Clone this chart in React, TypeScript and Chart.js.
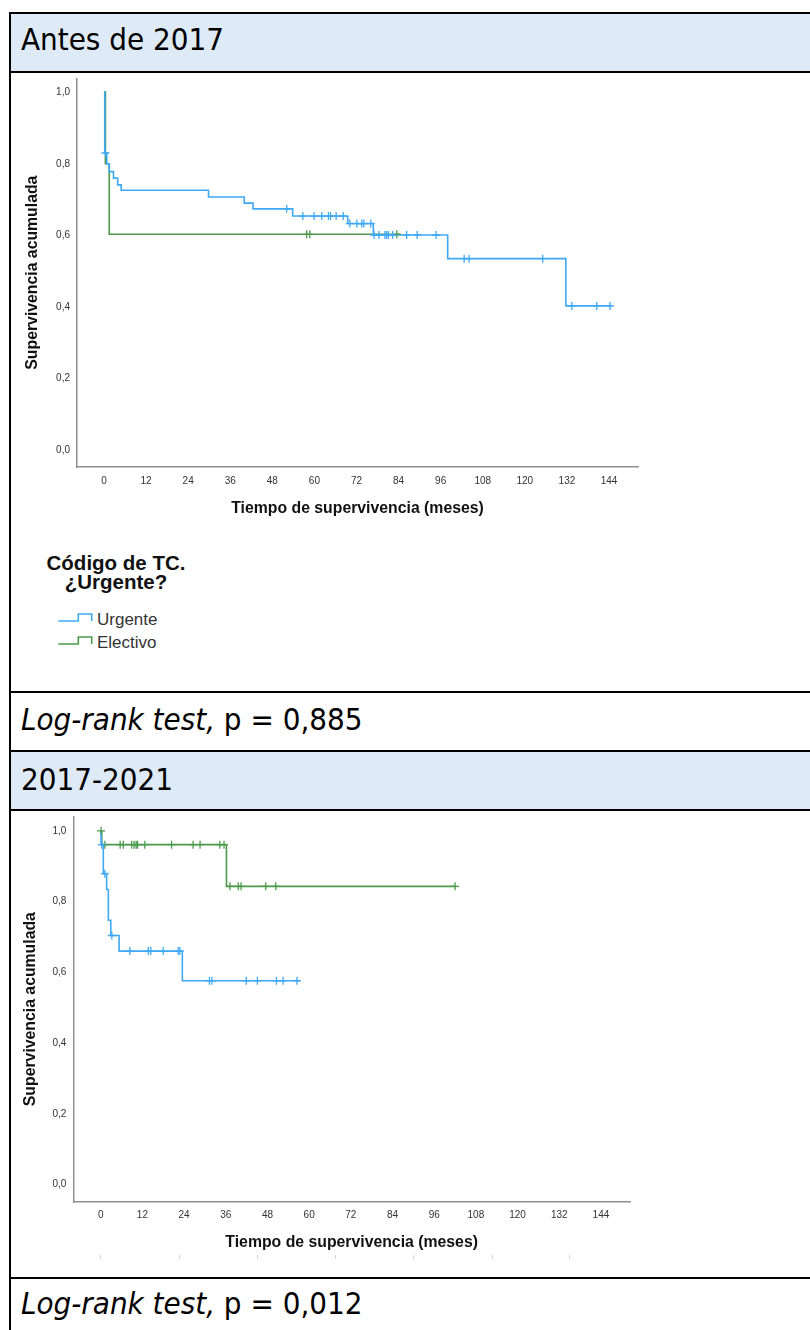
import React, { useEffect, useRef } from "react";
import { Chart, registerables } from "chart.js";

Chart.register(...registerables);

// ---------- data ----------
const xTicks = [0, 12, 24, 36, 48, 60, 72, 84, 96, 108, 120, 132, 144];
const yTicks = [0, 0.2, 0.4, 0.6, 0.8, 1.0];

// Antes de 2017
const c1UrgTimes = [0, 0.2, 0.8, 1.5, 2.7, 3.9, 4.9, 29.8, 40.0, 42.5, 53.8, 69.5, 76.8, 98.0, 131.7, 144.8];
const c1UrgSurv = [1.0, 0.83, 0.8, 0.778, 0.76, 0.741, 0.726, 0.707, 0.69, 0.674, 0.654, 0.633, 0.601, 0.535, 0.403, 0.403];
const c1UrgCens = [0.4, 52.1, 56.7, 59.9, 62.1, 64.0, 64.6, 66.2, 68.2, 70.1, 72.1, 73.5, 74.1, 76.1, 77.0, 78.4, 80.1, 80.6, 81.1, 82.3, 86.3, 89.3, 94.7, 102.7, 104.1, 125.1, 133.4, 140.5, 144.3];
const c1EleTimes = [0, 0.4, 1.5, 84.6];
const c1EleSurv = [1.0, 0.8, 0.603, 0.603];
const c1EleCens = [57.8, 58.7, 83.5];

// 2017-2021
const c2UrgTimes = [0, 0.1, 0.75, 1.7, 2.2, 2.9, 5.3, 23.5, 57.4];
const c2UrgSurv = [1.0, 0.961, 0.879, 0.834, 0.747, 0.704, 0.66, 0.576, 0.576];
const c2UrgCens = [0.3, 1.2, 3.2, 8.4, 13.7, 14.4, 18.0, 22.3, 22.8, 31.3, 32.0, 41.9, 45.1, 50.6, 52.5, 56.5];
const c2EleTimes = [0, 0.3, 36.2, 102.2];
const c2EleSurv = [1.0, 0.961, 0.843, 0.843];
const c2EleCens = [0.1, 1.2, 5.6, 6.5, 8.9, 9.6, 10.2, 10.6, 12.7, 20.4, 26.6, 28.6, 34.3, 35.5, 37.2, 39.6, 40.4, 47.5, 50.4, 102.0];

const seriesNames = ["Urgente", "Electivo"];
const xTitle = "Tiempo de supervivencia (meses)";
const yTitle = "Supervivencia acumulada";

// ---------- styles ----------
const BLUE = "#3FA9F5";
const GREEN = "#4C9A4C";
const AXIS = "#8f8f8f";
const CHART_FONT = "'Liberation Sans', Arial, sans-serif";
const TABLE_FONT = "'DejaVu Sans Condensed', 'DejaVu Sans', Verdana, sans-serif";
const HEAD_BG = "#DEEAF6";

function survAt(times: number[], surv: number[], t: number) {
  let v = surv[0];
  for (let i = 0; i < times.length; i++) {
    if (times[i] <= t) v = surv[i];
  }
  return v;
}

type Geo = {
  W: number;
  H: number;
  left: number;
  right: number;
  top: number;
  bottom: number;
  xmin: number;
  xmax: number;
  ymin: number;
  ymax: number;
  xTickPad: number;
  yTickPad: number;
  xTitlePad: number;
  yTitlePad: number;
};

function buildConfig(
  g: Geo,
  urgT: number[],
  urgS: number[],
  urgC: number[],
  eleT: number[],
  eleS: number[],
  eleC: number[]
): any {
  const line = (t: number[], s: number[]) => t.map((x, i) => ({ x, y: s[i] }));
  const cens = (c: number[], t: number[], s: number[]) => c.map((x) => ({ x, y: survAt(t, s, x) }));
  return {
    type: "line",
    data: {
      datasets: [
        {
          label: seriesNames[1],
          data: line(eleT, eleS),
          stepped: "before",
          borderColor: GREEN,
          borderWidth: 1.6,
          pointRadius: 0,
          fill: false,
          order: 4,
        },
        {
          label: seriesNames[0],
          data: line(urgT, urgS),
          stepped: "before",
          borderColor: BLUE,
          borderWidth: 1.6,
          pointRadius: 0,
          fill: false,
          order: 3,
        },
        {
          type: "scatter",
          label: seriesNames[1] + " censurado",
          data: cens(eleC, eleT, eleS),
          showLine: false,
          pointStyle: "cross",
          pointRadius: 4,
          borderColor: GREEN,
          pointBorderWidth: 1.3,
          order: 2,
        },
        {
          type: "scatter",
          label: seriesNames[0] + " censurado",
          data: cens(urgC, urgT, urgS),
          showLine: false,
          pointStyle: "cross",
          pointRadius: 4,
          borderColor: BLUE,
          pointBorderWidth: 1.3,
          order: 1,
        },
      ],
    },
    options: {
      responsive: false,
      animation: false,
      events: [],
      layout: { padding: { left: 0, top: g.top, right: g.W - g.right, bottom: 0 } },
      plugins: { legend: { display: false }, tooltip: { enabled: false }, title: { display: false } },
      scales: {
        x: {
          type: "linear",
          min: g.xmin,
          max: g.xmax,
          afterBuildTicks: (s: any) => {
            s.ticks = xTicks.map((v) => ({ value: v }));
          },
          afterFit: (s: any) => {
            s.height = g.H - g.bottom;
            s.paddingLeft = 0;
            s.paddingRight = 0;
          },
          grid: { display: false, drawTicks: false },
          border: { display: true, color: AXIS, width: 1.5 },
          ticks: {
            padding: g.xTickPad,
            autoSkip: false,
            maxRotation: 0,
            color: "#333",
            font: { family: CHART_FONT, size: 10 },
            callback: (v: any) => String(v),
          },
          title: {
            display: true,
            text: xTitle,
            color: "#111",
            font: { family: CHART_FONT, size: 15.8, weight: "bold" },
            padding: { top: 0, bottom: g.xTitlePad },
          },
        },
        y: {
          type: "linear",
          min: g.ymin,
          max: g.ymax,
          afterBuildTicks: (s: any) => {
            s.ticks = yTicks.map((v) => ({ value: v }));
          },
          afterFit: (s: any) => {
            s.width = g.left;
            s.paddingTop = 0;
            s.paddingBottom = 0;
          },
          grid: { display: false, drawTicks: false },
          border: { display: true, color: AXIS, width: 1.5 },
          ticks: {
            padding: g.yTickPad,
            color: "#333",
            font: { family: CHART_FONT, size: 10 },
            callback: (v: any) => Number(v).toFixed(1).replace(".", ","),
          },
          title: {
            display: true,
            text: yTitle,
            color: "#111",
            font: { family: CHART_FONT, size: 15.8, weight: "bold" },
            padding: { top: g.yTitlePad, bottom: 0 },
          },
        },
      },
    },
  };
}

function KMChart(props: { geo: Geo; top: number; left: number; which: number }) {
  const ref = useRef<HTMLCanvasElement | null>(null);
  const { geo, top, left, which } = props;
  useEffect(() => {
    if (!ref.current) return;
    const cfg =
      which === 1
        ? buildConfig(geo, c1UrgTimes, c1UrgSurv, c1UrgCens, c1EleTimes, c1EleSurv, c1EleCens)
        : buildConfig(geo, c2UrgTimes, c2UrgSurv, c2UrgCens, c2EleTimes, c2EleSurv, c2EleCens);
    const ch = new Chart(ref.current, cfg);
    return () => ch.destroy();
  }, []);
  return (
    <canvas
      ref={ref}
      width={geo.W}
      height={geo.H}
      style={{ position: "absolute", left, top, width: geo.W, height: geo.H, display: "block" }}
    />
  );
}

// geometry of the two plots (canvas coordinates)
const geo1: Geo = {
  W: 650,
  H: 454,
  left: 66,
  right: 627,
  top: 1,
  bottom: 394,
  xmin: -7.7,
  xmax: 152.27,
  ymin: -0.047,
  ymax: 1.0387,
  xTickPad: 8,
  yTickPad: 7,
  xTitlePad: 8.5,
  yTitlePad: 12.5,
};
const geo2: Geo = {
  W: 640,
  H: 451,
  left: 62.3,
  right: 619,
  top: 1,
  bottom: 391,
  xmin: -7.89,
  xmax: 152.36,
  ymin: -0.0495,
  ymax: 1.0411,
  xTickPad: 7.3,
  yTickPad: 7,
  xTitlePad: 9.5,
  yTitlePad: 10.5,
};

function HLine({ y }: { y: number }) {
  return <div style={{ position: "absolute", left: 9, top: y, width: 801, height: 2, background: "#000" }} />;
}

function CellText({ y, children }: { y: number; children: any }) {
  return (
    <div
      style={{
        position: "absolute",
        left: 21,
        top: y - 17,
        height: 34,
        lineHeight: "34px",
        fontFamily: TABLE_FONT,
        fontStretch: "condensed",
        fontSize: 31,
        color: "#000",
        whiteSpace: "nowrap",
      }}
    >
      {children}
    </div>
  );
}

function StepIcon({ x, y, color }: { x: number; y: number; color: string }) {
  return (
    <svg
      width={38}
      height={12}
      style={{ position: "absolute", left: x, top: y }}
      viewBox="0 0 38 12"
    >
      <path d="M1.3 9 H21.3 V2 H34.7 V9" fill="none" stroke={color} strokeWidth={1.6} />
    </svg>
  );
}

export default function App() {
  const faint = [100, 179, 257, 335, 413, 492, 569];
  return (
    <div
      style={{
        position: "absolute",
        left: 0,
        top: 0,
        width: 810,
        height: 1330,
        overflow: "hidden",
        background: "#fff",
      }}
    >
      {/* header rows background */}
      <div style={{ position: "absolute", left: 11, top: 14, width: 799, height: 57, background: HEAD_BG }} />
      <div style={{ position: "absolute", left: 11, top: 752, width: 799, height: 57, background: HEAD_BG }} />

      {/* table borders */}
      <HLine y={12} />
      <HLine y={71} />
      <HLine y={691} />
      <HLine y={750} />
      <HLine y={809} />
      <HLine y={1277} />
      <div style={{ position: "absolute", left: 9, top: 12, width: 2, height: 1318, background: "#000" }} />

      <CellText y={39}>Antes de 2017</CellText>
      <CellText y={719}>
        <i>Log-rank test,</i> p = 0,885
      </CellText>
      <CellText y={779}>2017-2021</CellText>
      <CellText y={1303}>
        <i>Log-rank test,</i> p = 0,012
      </CellText>

      <KMChart geo={geo1} left={11} top={73} which={1} />
      <KMChart geo={geo2} left={11} top={811} which={2} />

      {/* legend of the first plot */}
      <div
        style={{
          position: "absolute",
          left: 26,
          top: 553,
          width: 180,
          textAlign: "center",
          fontFamily: CHART_FONT,
          fontWeight: "bold",
          fontSize: 20.5,
          lineHeight: "19px",
          color: "#111",
        }}
      >
        Código de TC.
        <br />
        ¿Urgente?
      </div>
      <StepIcon x={57} y={612} color={BLUE} />
      <StepIcon x={57} y={635.3} color={GREEN} />
      <div
        style={{
          position: "absolute",
          left: 97,
          top: 610,
          fontFamily: CHART_FONT,
          fontSize: 17,
          lineHeight: "20px",
          color: "#333",
        }}
      >
        {seriesNames[0]}
      </div>
      <div
        style={{
          position: "absolute",
          left: 97,
          top: 633.3,
          fontFamily: CHART_FONT,
          fontSize: 17,
          lineHeight: "20px",
          color: "#333",
        }}
      >
        {seriesNames[1]}
      </div>

      {faint.map((x) => (
        <div key={x} style={{ position: "absolute", left: x, top: 1255, width: 1, height: 4, background: "#d4d4d4" }} />
      ))}
    </div>
  );
}
